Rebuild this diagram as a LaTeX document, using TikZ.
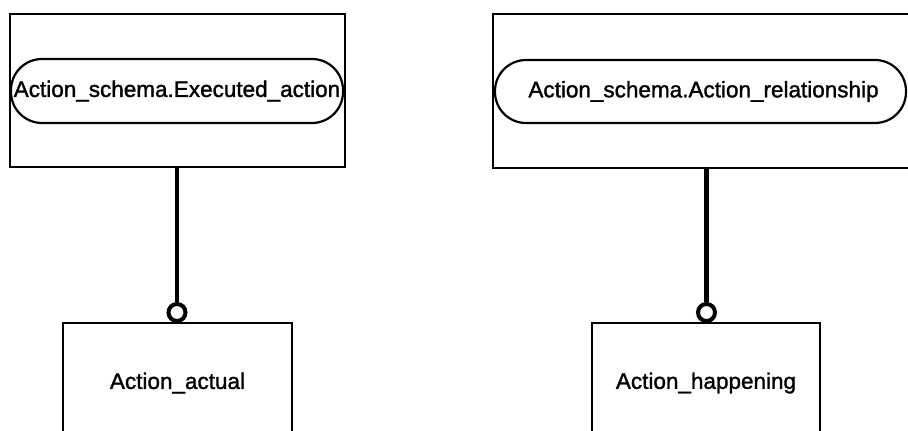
\documentclass[tikz,border=0pt]{standalone}
\usepackage{fontspec}
\setmainfont{Liberation Sans}
\newfontfamily\labelfont{Liberation Sans}[FakeBold=1.4]
\begin{document}
\begin{tikzpicture}[x=1pt,y=-1pt,
  outerbox/.style={draw,line width=2.4pt,inner sep=0pt},
  stadium/.style={draw,line width=2.2pt,rounded corners=31pt,inner sep=0pt,font=\labelfont\fontsize{22.5}{26}\selectfont},
  entbox/.style={draw,line width=2.4pt,inner sep=0pt,font=\labelfont\fontsize{22.5}{26}\selectfont},
  conn/.style={line width=4.5pt},
  ring/.style={circle,draw,line width=4pt,fill=white,minimum size=17pt,inner sep=0pt}]
\useasboundingbox (0,0) rectangle (908,431);
\clip (0,0) rectangle (908,431);
% top boxes
\node[outerbox,minimum width=335pt,minimum height=153pt] (e1) at (177.5,90.5) {};
\node[stadium,minimum width=332pt,minimum height=64pt] (s1) at (177,91) {Action\_schema.Executed\_action};
\node[outerbox,minimum width=419pt,minimum height=154pt] (e2) at (702.5,91) {};
\node[stadium,minimum width=411pt,minimum height=63pt] (s2) at (700.5,91.5) {\hspace*{6pt}Action\_schema.Action\_relationship};
% bottom boxes
\node[entbox,minimum width=229pt,minimum height=120pt] (b1) at (177.5,383) {Action\_actual};
\node[entbox,minimum width=228pt,minimum height=120pt] (b2) at (706,383) {Action\_happening};
% rings
\node[ring] (c1) at (177,312.5) {};
\node[ring] (c2) at (706.5,312.5) {};
% connectors
\draw[conn] (e1.south -| c1) -- (c1.north);
\draw[conn] (e2.south -| c2) -- (c2.north);
\end{tikzpicture}
\end{document}
